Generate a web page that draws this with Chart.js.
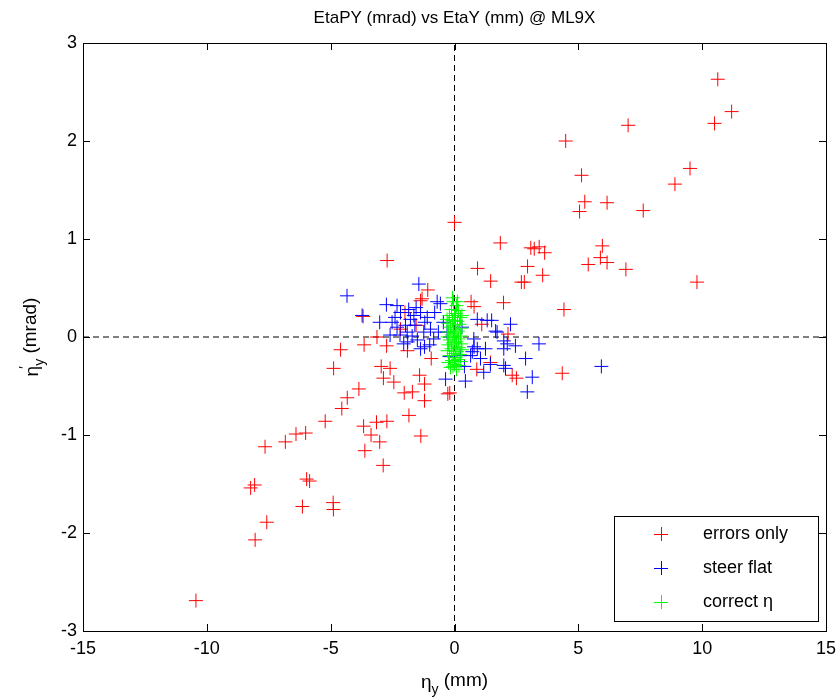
<!DOCTYPE html>
<html>
<head>
<meta charset="utf-8">
<script src="https://cdn.jsdelivr.net/npm/chart.js@4.4.1/dist/chart.umd.min.js"></script>
<style>
  html, body { margin: 0; padding: 0; background: #fff; }
</style>
</head>
<body>
<canvas id="etaChart" width="838" height="699"></canvas>
<script>
// errors only (red)
const errorsOnly = [
  [-10.44,-2.69],[-8.05,-2.07],[-7.58,-1.89],[-8.23,-1.54],[-8.07,-1.51],[-7.65,-1.12],
  [-6.83,-1.07],[-6.40,-0.99],[-6.01,-0.98],[-5.22,-0.86],[-6.14,-1.73],[-4.90,-1.69],
  [-4.89,-1.76],[-5.97,-1.45],[-5.85,-1.47],[-4.55,-0.73],[-4.33,-0.62],[-3.86,-0.53],
  [-4.88,-0.32],[-4.60,-0.13],[-3.65,-0.08],[-3.13,0.00],[-2.74,-0.09],[-2.96,-0.30],
  [-2.60,-0.32],[-2.87,-0.42],[-2.45,-0.46],[-2.03,-0.57],[-1.70,-0.56],[-1.41,-0.39],
  [-1.21,-0.48],[-1.21,-0.65],[-1.84,-0.80],[-0.94,-0.22],[-1.90,-0.14],[-0.27,-0.58],
  [-1.36,-1.01],[-3.67,-0.91],[-3.15,-0.87],[-2.73,-0.86],[-3.37,-1.00],[-3.02,-1.07],
  [-3.62,-1.16],[-2.88,-1.31],[-2.72,0.78],[-1.08,0.48],[-3.69,0.21],[-1.31,0.39],
  [-1.37,0.37],[-2.18,0.08],[-1.55,0.12],[-2.00,0.25],
  [10.63,2.63],[11.19,2.30],[10.50,2.18],[7.01,2.16],[4.49,2.00],[9.51,1.72],
  [8.90,1.56],[5.13,1.65],[5.26,1.38],[5.05,1.28],[6.16,1.37],[7.62,1.29],
  [0.00,1.17],[1.85,0.96],[3.08,0.91],[3.22,0.90],[3.42,0.92],[3.64,0.86],
  [2.95,0.72],[0.93,0.70],[3.56,0.63],[1.46,0.57],[2.70,0.56],[2.82,0.56],
  [5.97,0.93],[5.89,0.81],[6.16,0.76],[5.40,0.74],[6.92,0.69],[9.79,0.56],
  [4.42,0.28],[1.98,0.35],[0.67,0.36],[0.79,0.31],[1.10,0.13],[2.16,0.03],
  [4.35,-0.37],[2.33,-0.39],[2.50,-0.42],[1.45,-0.26],[0.90,-0.33],[-0.19,-0.57]
];

// steer flat (blue)
const steerFlat = [
  [-4.34,0.42],[-1.44,0.54],[-3.73,0.22],[-2.75,0.33],[-2.32,0.32],[-2.18,0.25],
  [-3.02,0.15],[-1.78,0.18],[-1.64,0.22],[-1.37,0.25],[-0.57,0.34],[-0.70,0.36],
  [-1.91,0.05],[-1.71,0.01],[-2.05,-0.07],[-1.24,0.05],[-0.97,0.08],[-0.84,-0.02],
  [-1.37,-0.12],[-1.00,-0.08],[-2.52,0.15],[-2.32,0.10],[-1.98,0.12],[-1.60,0.12],
  [-0.36,-0.43],[-1.21,-0.10],[-1.89,-0.05],[-2.20,0.02],[-1.10,0.20],[-0.45,0.15],
  [-0.80,0.25],[-2.60,0.02],[0.92,0.18],[1.32,0.17],[1.50,0.17],[2.26,0.13],
  [1.72,0.05],[1.99,-0.04],[3.41,-0.07],[2.46,-0.09],[1.99,-0.12],[2.87,-0.22],
  [0.92,-0.12],[0.65,-0.19],[1.05,-0.22],[1.45,-0.28],[1.99,-0.29],[2.06,-0.32],
  [0.44,-0.45],[3.14,-0.41],[2.94,-0.56],[0.79,-0.10],[0.72,-0.15],[1.18,-0.36],
  [0.78,-0.02],[1.25,-0.12],[0.24,-0.19],[1.66,0.06],[2.13,-0.07],[5.93,-0.30],
  [-0.30,0.05],[0.30,0.10],[-0.20,-0.20],[0.40,-0.30],
  [-1.55,0.30],[-1.20,0.15],[-1.85,0.28],[-0.65,0.05],[-1.50,-0.03],[-2.40,0.20]
];

// correct eta (green)
const correctEta = [
  [-0.04,0.36],[0.08,0.32],[-0.12,0.28],[0.16,0.27],[0.04,0.24],[-0.20,0.22],
  [0.24,0.20],[0.00,0.20],[-0.08,0.17],[0.12,0.16],[-0.26,0.14],[0.20,0.13],
  [0.04,0.12],[-0.16,0.10],[0.28,0.09],[-0.04,0.08],[0.14,0.06],[-0.24,0.05],
  [0.06,0.04],[-0.10,0.02],[0.24,0.01],[-0.28,0.00],[0.00,0.00],[0.16,-0.02],
  [-0.18,-0.03],[0.08,-0.05],[-0.06,-0.06],[0.27,-0.07],[-0.24,-0.08],[0.02,-0.10],
  [0.18,-0.11],[-0.12,-0.12],[0.30,-0.13],[-0.28,-0.14],[0.10,-0.15],[-0.04,-0.17],
  [0.22,-0.18],[-0.20,-0.19],[0.04,-0.21],[0.14,-0.23],[-0.10,-0.24],[0.26,-0.25],
  [-0.24,-0.26],[0.00,-0.28],[0.18,-0.29],[-0.16,-0.31],[0.08,-0.33],[-0.08,0.40],
  [0.12,0.36],[-0.30,0.18],[0.30,0.22],[-0.06,-0.30]
];

const xTicks = [-15, -10, -5, 0, 5, 10, 15];
const yTicks = [-3, -2, -1, 0, 1, 2, 3];
const seriesNames = ['errors only', 'steer flat', 'correct \u03b7'];
const seriesColors = ['#ff0000', '#0000ff', '#00ff00'];

const toPts = arr => arr.map(p => ({ x: p[0], y: p[1] }));
const FONT = '"Liberation Sans", Arial, Helvetica, sans-serif';

// box, inward ticks, titles and legend, drawn in the matlab way
const matlabFrame = {
  id: 'matlabFrame',
  afterDraw(chart) {
    const ctx = chart.ctx;
    const a = chart.chartArea;
    const xs = chart.scales.x, ys = chart.scales.y;
    ctx.save();
    ctx.strokeStyle = '#000';
    ctx.lineWidth = 1;
    ctx.strokeRect(Math.round(a.left) + 0.5, Math.round(a.top) + 0.5,
                   Math.round(a.right - a.left), Math.round(a.bottom - a.top));
    ctx.beginPath();
    const tl = 7;
    xTicks.forEach(v => {
      const px = Math.round(xs.getPixelForValue(v)) + 0.5;
      ctx.moveTo(px, a.bottom); ctx.lineTo(px, a.bottom - tl);
      ctx.moveTo(px, a.top); ctx.lineTo(px, a.top + tl);
    });
    yTicks.forEach(v => {
      const py = Math.round(ys.getPixelForValue(v)) + 0.5;
      ctx.moveTo(a.left, py); ctx.lineTo(a.left + tl, py);
      ctx.moveTo(a.right, py); ctx.lineTo(a.right - tl, py);
    });
    ctx.stroke();

    // title
    const cx = (a.left + a.right) / 2;
    ctx.fillStyle = '#000';
    ctx.textAlign = 'center';
    ctx.textBaseline = 'alphabetic';
    ctx.font = '17px ' + FONT;
    ctx.fillText('EtaPY (mrad) vs EtaY (mm) @ ML9X', cx, 23);

    // x axis title: eta_y (mm)
    ctx.font = '19px ' + FONT;
    const w1 = ctx.measureText('\u03b7').width;
    ctx.font = '14px ' + FONT;
    const w2 = ctx.measureText('y').width;
    ctx.font = '19px ' + FONT;
    const w3 = ctx.measureText(' (mm)').width;
    let sx = cx - (w1 + w2 + w3) / 2;
    const by = 688;
    ctx.textAlign = 'left';
    ctx.fillText('\u03b7', sx, by);
    ctx.font = '14px ' + FONT;
    ctx.fillText('y', sx + w1, by + 6);
    ctx.font = '19px ' + FONT;
    ctx.fillText(' (mm)', sx + w1 + w2, by - 2);

    // y axis title: eta'_y (mrad)
    ctx.save();
    ctx.translate(38, (a.top + a.bottom) / 2);
    ctx.rotate(-Math.PI / 2);
    ctx.font = '19px ' + FONT;
    const v1 = ctx.measureText('\u03b7').width;
    ctx.font = '14px ' + FONT;
    const v2 = ctx.measureText('y').width;
    ctx.font = '19px ' + FONT;
    const v3 = ctx.measureText(' (mrad)').width;
    let sy = -(v1 + v2 + v3) / 2;
    ctx.fillText('\u03b7', sy, 0);
    ctx.font = '14px ' + FONT;
    ctx.fillText('\u2032', sy + v1 - 3, -9);
    ctx.fillText('y', sy + v1, 6);
    ctx.font = '19px ' + FONT;
    ctx.fillText(' (mrad)', sy + v1 + v2, -2);
    ctx.restore();

    // legend box
    const lx = 614, ly = 516, lw = 204, lh = 105;
    ctx.fillStyle = '#fff';
    ctx.fillRect(lx, ly, lw, lh);
    ctx.strokeStyle = '#000';
    ctx.strokeRect(lx + 0.5, ly + 0.5, lw, lh);
    ctx.font = '18px ' + FONT;
    ctx.textBaseline = 'middle';
    seriesNames.forEach((name, i) => {
      const ry = ly + 18 + i * 34;
      ctx.strokeStyle = seriesColors[i];
      ctx.beginPath();
      ctx.moveTo(654, ry + 0.5); ctx.lineTo(668, ry + 0.5);
      ctx.moveTo(661.5, ry - 7); ctx.lineTo(661.5, ry + 7);
      ctx.stroke();
      ctx.fillStyle = '#000';
      ctx.fillText(name, 703, ry);
    });
    ctx.restore();
  }
};

const ctx = document.getElementById('etaChart').getContext('2d');
new Chart(ctx, {
  type: 'scatter',
  data: {
    datasets: [
      {
        label: seriesNames[2], data: toPts(correctEta), order: 1,
        pointStyle: 'cross', pointRadius: 7, pointBorderWidth: 1,
        borderColor: seriesColors[2], backgroundColor: seriesColors[2]
      },
      {
        label: seriesNames[1], data: toPts(steerFlat), order: 2,
        pointStyle: 'cross', pointRadius: 7, pointBorderWidth: 1,
        borderColor: seriesColors[1], backgroundColor: seriesColors[1]
      },
      {
        label: seriesNames[0], data: toPts(errorsOnly), order: 3,
        pointStyle: 'cross', pointRadius: 7, pointBorderWidth: 1,
        borderColor: seriesColors[0], backgroundColor: seriesColors[0]
      },
      {
        label: 'y0', data: [{ x: -15, y: 0 }, { x: 15, y: 0 }], order: 4,
        showLine: true, pointRadius: 0, borderColor: '#000', borderWidth: 1, borderDash: [6, 4]
      },
      {
        label: 'x0', data: [{ x: 0, y: -3 }, { x: 0, y: 3 }], order: 5,
        showLine: true, pointRadius: 0, borderColor: '#000', borderWidth: 1, borderDash: [6, 4]
      }
    ]
  },
  options: {
    responsive: false,
    animation: false,
    devicePixelRatio: 1,
    events: [],
    layout: { padding: { top: 43, right: 12, left: 0, bottom: 0 } },
    plugins: {
      legend: { display: false },
      title: { display: false },
      tooltip: { enabled: false }
    },
    scales: {
      x: {
        type: 'linear', min: -15, max: 15,
        afterFit: s => { s.height = 68; s.paddingLeft = 0; s.paddingRight = 0; },
        afterBuildTicks: s => { s.ticks = xTicks.map(v => ({ value: v })); },
        ticks: { color: '#000', padding: 7, font: { family: FONT, size: 18 } },
        grid: { display: false, drawTicks: false },
        border: { display: false }
      },
      y: {
        type: 'linear', min: -3, max: 3,
        afterFit: s => { s.width = 83; s.paddingTop = 0; s.paddingBottom = 0; },
        afterBuildTicks: s => { s.ticks = yTicks.map(v => ({ value: v })); },
        ticks: { color: '#000', padding: 6, font: { family: FONT, size: 18 } },
        grid: { display: false, drawTicks: false },
        border: { display: false }
      }
    }
  },
  plugins: [matlabFrame]
});
</script>
</body>
</html>
